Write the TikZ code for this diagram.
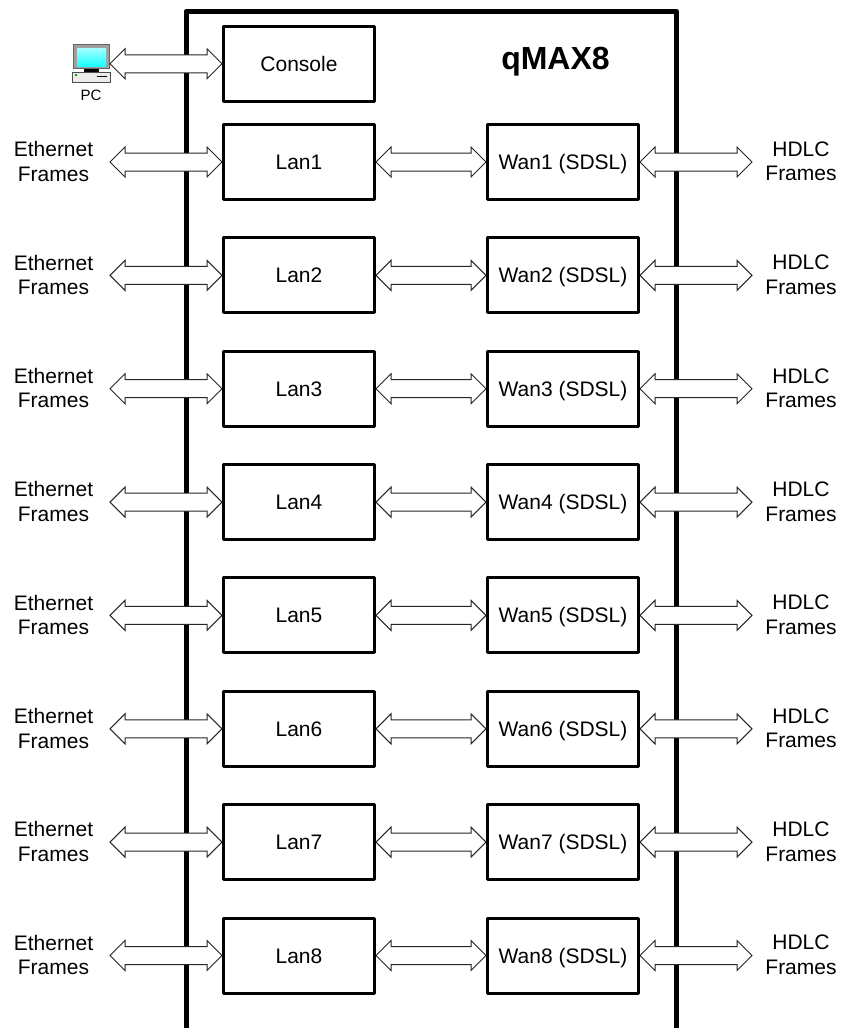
\documentclass[tikz,border=0pt]{standalone}
\usepackage{fontspec}
\setmainfont{Liberation Sans}
\usetikzlibrary{calc}
\tikzset{
  unitbox/.style={draw=black,line width=2.25pt,line join=round,fill=white,minimum width=113.25pt,minimum height=56.25pt,inner sep=0pt,text height=11.3pt,text depth=0pt,font=\fontsize{15.75}{18}\selectfont},
  sidelabel/.style={align=center,inner sep=0pt,font=\fontsize{15.75}{18.4}\selectfont},
  flow/.style={draw=black!85,line width=0.75pt,fill=white,miter limit=10},
  frameline/.style={draw=black,line width=3.75pt,line join=round}
}
% hollow double-headed arrow between two named points
\newcommand{\flowarrow}[2]{%
  \draw[flow] let \p1=(#1), \p2=(#2) in
    (\x1,\y1) -- (\x1+11.25pt,\y1+11.25pt) -- (\x1+11.25pt,\y1+6.75pt)
    -- (\x2-11.25pt,\y2+6.75pt) -- (\x2-11.25pt,\y2+11.25pt) -- (\x2,\y2)
    -- (\x2-11.25pt,\y2-11.25pt) -- (\x2-11.25pt,\y2-6.75pt)
    -- (\x1+11.25pt,\y1-6.75pt) -- (\x1+11.25pt,\y1-11.25pt) -- cycle;}
\begin{document}
\begin{tikzpicture}[x=0.75pt,y=-0.75pt]
\useasboundingbox (0,0) rectangle (840,1028);
\fill[white] (0,0) rectangle (840,1028);
% enclosure
\coordinate (frameBL) at (186,1028);
\coordinate (frameTL) at (186,11.5);
\coordinate (frameTR) at (676.5,11.5);
\coordinate (frameBR) at (676.5,1028);
\draw[frameline] (frameBL) -- (frameTL) -- (frameTR) -- (frameBR);
\node[font=\bfseries\fontsize{24}{28}\selectfont,inner sep=0pt] (title) at (555.5,61.7) {qMAX8};
% console
\node[unitbox] (console) at (299,63.75) {Console};
% PC icon
\fill[gray!75] (73.5,44.5) rectangle (109.5,68.5);
\draw[black!60,line width=0.5pt] (73.5,44.5) rectangle (109.5,68.5);
\shade[top color=cyan!35,bottom color=cyan!90!white] (77,48) rectangle (106,66);
\fill[black] (84,68.5) rectangle (99,72);
\fill[gray!15] (72.5,72) rectangle (110,82.5);
\draw[black!70,line width=0.6pt] (72.5,72) rectangle (110,82.5);
\fill[green!60!black] (75,73.5) rectangle (77,75.5);
\fill[black] (97,75.5) rectangle (107,77);
\coordinate (pc) at (110,63.75);
\node[inner sep=0pt,font=\fontsize{11.25}{13}\selectfont] (pclabel) at (91,95) {PC};
\flowarrow{pc}{console.west}
% channels
\foreach \k in {1,...,8}{
  \pgfmathsetmacro{\yy}{162+113.36*(\k-1)}
  \pgfmathsetmacro{\ly}{\yy-0.5}
  \node[unitbox] (lan\k) at (299,\yy) {Lan\k};
  \node[unitbox] (wan\k) at (563,\yy) {Wan\k{} (SDSL)};
  \node[sidelabel] (eth\k) at (53.5,\ly) {Ethernet\\Frames};
  \node[sidelabel] (hdlc\k) at (801,\ly) {HDLC\\Frames};
  \coordinate (ethend\k) at (110,\yy);
  \coordinate (hdlcend\k) at (752,\yy);
  \flowarrow{ethend\k}{lan\k.west}
  \flowarrow{lan\k.east}{wan\k.west}
  \flowarrow{wan\k.east}{hdlcend\k}
}
\end{tikzpicture}
\end{document}
